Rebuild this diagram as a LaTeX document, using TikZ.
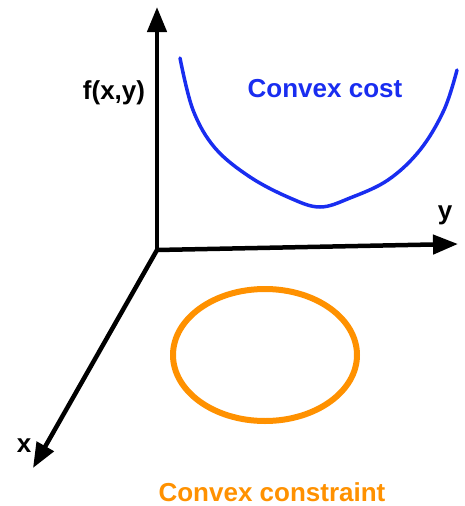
\documentclass[tikz,border=0pt]{standalone}
\usepackage{fontspec}
\setmainfont{Liberation Sans}
\usetikzlibrary{arrows.meta}
\definecolor{costblue}{RGB}{25,45,240}
\definecolor{consorange}{RGB}{255,145,0}
\begin{document}
\begin{tikzpicture}[
			x=1pt, y=-1pt,
			>={Triangle[length=25pt,width=19pt]},
			every node/.style = {font=\fontsize{26}{30}\selectfont\bfseries},
			axis/.style       = {line width=4.5pt, ->}
			]
			\useasboundingbox (0,0) rectangle (464,506);
			%--- axes ---
			\coordinate (o) at (157,250);
			\coordinate (ztip) at (157,7);
			\coordinate (ytip) at (458,244);
			\coordinate (xtip) at (33,468);
			\draw[axis] (o) -- (ztip);
			\draw[axis] (o) -- (ytip);
			\draw[axis] (o) -- (xtip);
			
			%--- labels ---
			\node (fxy) at (114,93) {f(x,y)};
			\node (ylab) at (445,215) {y};
			\node (xlab) at (24,446) {x};
			\node[text=costblue] (cost) at (325,89) {Convex cost};
			\node[text=consorange] (cons) at (272,492) {Convex constraint};
			
			%--- cost and constraint ---
			\draw[costblue, line width=3.5pt, line cap=round]
				plot[smooth, tension=0.6] coordinates {(180,58) (193,110) (215,148) (250,177)
				(290,198) (320,207) (350,198) (388,180) (420,150) (444,110) (457,70)};
			\draw[consorange, line width=6pt] (265,355) ellipse (92pt and 66pt);
		\end{tikzpicture}
\end{document}
